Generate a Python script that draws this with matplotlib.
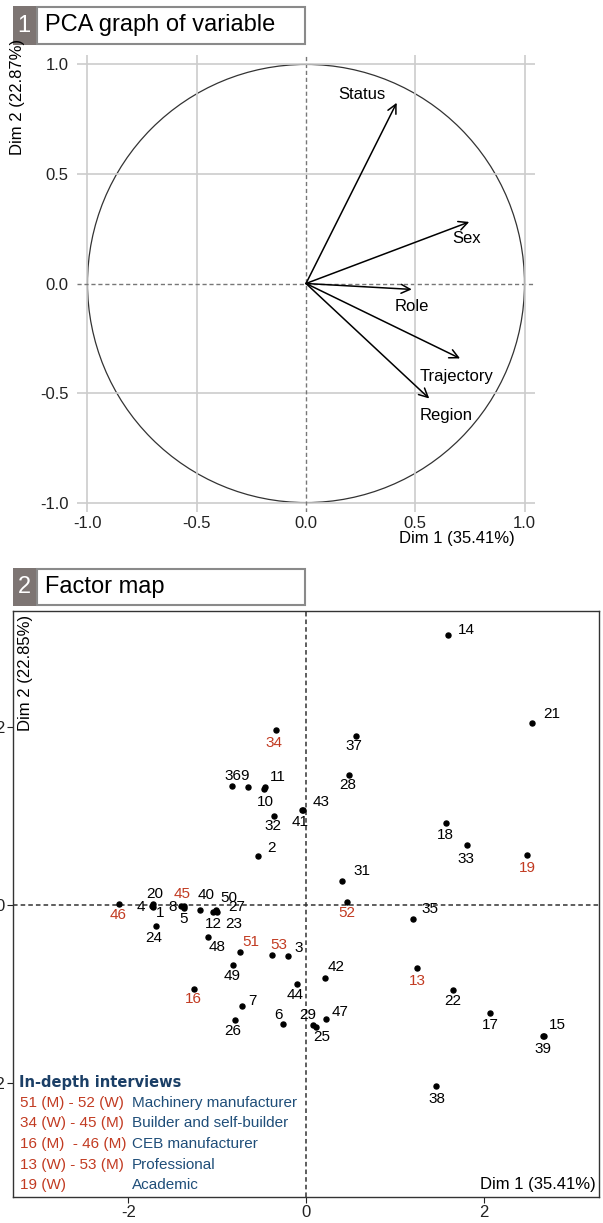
import matplotlib.pyplot as plt
from matplotlib.patches import Rectangle, Circle
import numpy as np

plt.rcParams['font.family'] = ['Liberation Sans', 'DejaVu Sans']
plt.rcParams['axes.unicode_minus'] = False

# ---- data: variables (correlation circle)
var_names = ['Status', 'Sex', 'Role', 'Trajectory', 'Region']
var_d1 = [0.415, 0.747, 0.484, 0.705, 0.564]
var_d2 = [0.825, 0.281, -0.027, -0.342, -0.525]

# ---- data: individuals (factor map)
ind_names = ['1', '2', '3', '4', '5', '6', '7', '8', '9', '10', '11', '12', '13',
             '14', '15', '16', '17', '18', '19', '20', '21', '22', '23', '24', '25',
             '26', '27', '28', '29', '31', '32', '33', '34', '35', '36', '37', '38',
             '39', '40', '41', '42', '43', '44', '45', '46', '47', '48', '49', '50',
             '51', '52', '53']
ind_d1 = [-1.725, -0.545, -0.20, -1.74, -1.375, -0.263, -0.725, -1.41, -0.65, -0.47,
          -0.462, -1.048, 1.251, 1.604, 2.678, -1.263, 2.074, 1.575, 2.488, -1.725,
          2.545, 1.657, -1.003, -1.691, 0.113, -0.80, -1.015, 0.485, 0.079, 0.406,
          -0.361, 1.812, -0.338, 1.203, -0.831, 0.560, 1.466, 2.669, -1.195, -0.048,
          0.218, -0.039, -0.098, -1.375, -2.105, 0.222, -1.101, -0.820, -1.018,
          -0.744, 0.466, -0.383]
ind_d2 = [-0.02, 0.552, -0.57, -0.01, -0.035, -1.334, -1.131, -0.01, 1.322, 1.304,
          1.319, -0.079, -0.707, 3.025, -1.471, -0.950, -1.210, 0.917, 0.564, 0.011,
          2.037, -0.955, -0.079, -0.237, -1.375, -1.289, -0.068, 1.454, -1.353, 0.267,
          1.003, 0.676, 1.962, -0.161, 1.330, 1.894, -2.029, -1.477, -0.06, 1.060,
          -0.826, 1.071, -0.887, -0.011, 0.015, -1.282, -0.361, -0.680, -0.056,
          -0.530, 0.037, -0.560]
interviews = ['13', '16', '19', '34', '45', '46', '51', '52', '53']

legend_ids = ['51 (M) - 52 (W)', '34 (W) - 45 (M)', '16 (M)  - 46 (M)',
              '13 (W) - 53 (M)', '19 (W)']
legend_roles = ['Machinery manufacturer', 'Builder and self-builder',
                'CEB manufacturer', 'Professional', 'Academic']

# ---- layout: label offsets (pixels) relative to their point
var_off = [(-35, 8), (-3, -17), (0, -17), (-3, -18), (17, -17)]
ind_off = {'1': (7, -6), '2': (14, 8), '3': (10, 8), '4': (-11, -1), '5': (0, -11),
           '6': (-4, 9), '7': (11, 5), '8': (-8, -1), '9': (-4, 11), '10': (1, -13),
           '11': (13, 10), '12': (0, -12), '13': (0, -13), '14': (18, 5),
           '15': (14, 11), '16': (0, -10), '17': (0, -12), '18': (0, -12),
           '19': (0, -13), '20': (2, 10), '21': (20, 9), '22': (0, -11),
           '23': (17, -12), '24': (-2, -12), '25': (6, -10), '26': (-2, -11),
           '27': (21, 4), '28': (-1, -10), '29': (-5, 10), '31': (20, 10),
           '32': (-1, -10), '33': (-1, -14), '34': (-2, -13), '35': (17, 10),
           '36': (1, 10), '37': (-2, -10), '38': (1, -13), '39': (0, -13),
           '40': (6, 15), '41': (-2, -12), '42': (11, 11), '43': (19, 8),
           '44': (-2, -11), '45': (-2, 12), '46': (-1, -11), '47': (14, 7),
           '48': (9, -10), '49': (-1, -11), '50': (13, 12), '51': (11, 10),
           '52': (-1, -11), '53': (7, 10)}

RED = '#c23b22'
BLUE = '#1f4e79'
W, H = 603, 1223

fig = plt.figure(figsize=(W / 100, H / 100), dpi=100)


def fx(px):
    return px / W


def fy(py):
    return 1 - py / H


def header(num, title, top, bottom):
    fig.patches.append(Rectangle((fx(12.5), fy(bottom)), fx(36) - fx(12.5),
                                 fy(top) - fy(bottom), transform=fig.transFigure,
                                 facecolor='#7d7573', edgecolor='none'))
    fig.patches.append(Rectangle((fx(37), fy(bottom - 1)), fx(305) - fx(37),
                                 fy(top + 1) - fy(bottom - 1), transform=fig.transFigure,
                                 facecolor='white', edgecolor='#8a8a8a', lw=1.5))
    yc = fy((top + bottom) / 2)
    fig.text(fx(24), yc, num, color='white', fontsize=17, ha='center', va='center')
    fig.text(fx(45), yc, title, color='black', fontsize=17, ha='left', va='center')


# ---------------- top panel: variables
ax1 = fig.add_axes([fx(77), fy(512), fx(535) - fx(77), fy(55) - fy(512)])
ax1.set_xlim(-1.048, 1.048)
ax1.set_ylim(-1.043, 1.043)
ticks = [-1.0, -0.5, 0.0, 0.5, 1.0]
for t in ticks:
    if t == 0:
        ax1.axvline(t, color='#777777', lw=1, ls=(0, (3, 2)))
        ax1.axhline(t, color='#777777', lw=1, ls=(0, (3, 2)))
    else:
        ax1.axvline(t, color='#cccccc', lw=1.2)
        ax1.axhline(t, color='#cccccc', lw=1.2)
ax1.set_xticks(ticks)
ax1.set_yticks(ticks)
ax1.set_xticklabels(['%.1f' % t for t in ticks])
ax1.set_yticklabels(['%.1f' % t for t in ticks])
ax1.tick_params(axis='y', length=0, labelsize=12, pad=6, colors='#222222')
ax1.tick_params(axis='x', length=0, labelsize=12, pad=3, colors='#222222')
for s in ax1.spines.values():
    s.set_visible(False)
ax1.add_patch(Circle((0, 0), 1, fill=False, color='#333333', lw=0.9))
for name, a, b, off in zip(var_names, var_d1, var_d2, var_off):
    ax1.annotate('', xy=(a, b), xytext=(0, 0),
                 arrowprops=dict(arrowstyle='->', color='black', lw=1.1,
                                 mutation_scale=16, shrinkA=0, shrinkB=0))
    ax1.annotate(name, xy=(a, b), xytext=off, textcoords='offset pixels',
                 ha='center', va='center', fontsize=12)
fig.text(fx(18), fy(97), 'Dim 2 (22.87%)', rotation=90, ha='center', va='center',
         fontsize=12)
fig.text(fx(515), fy(539), 'Dim 1 (35.41%)', ha='right', va='center', fontsize=12)
header('1', 'PCA graph of variable', 6, 45)

# ---------------- bottom panel: individuals
ax2 = fig.add_axes([fx(13), fy(1197), fx(599) - fx(13), fy(611) - fy(1197)])
ax2.set_xlim(-3.30, 3.30)
ax2.set_ylim(-3.28, 3.30)
ax2.axvline(0, color='#333333', lw=1.1, ls=(0, (3, 2)))
ax2.axhline(0, color='#333333', lw=1.1, ls=(0, (3, 2)))
ax2.scatter(ind_d1, ind_d2, s=13, color='black', zorder=3)
for name, a, b in zip(ind_names, ind_d1, ind_d2):
    c = RED if name in interviews else 'black'
    ax2.annotate(name, xy=(a, b), xytext=ind_off[name], textcoords='offset pixels',
                 ha='center', va='center', fontsize=11, color=c)
ax2.set_xticks([-2, 0, 2])
ax2.set_yticks([-2, 0, 2])
ax2.tick_params(direction='out', length=4, labelsize=12, pad=2, colors='#222222')
for s in ax2.spines.values():
    s.set_color('#333333')
    s.set_linewidth(1)
ax2.text(0.009, 0.993, 'Dim 2 (22.85%)', transform=ax2.transAxes, rotation=90,
         ha='left', va='top', fontsize=12)
ax2.text(0.994, 0.021, 'Dim 1 (35.41%)', transform=ax2.transAxes, ha='right',
         va='center', fontsize=12)

# legend of in-depth interviews
fig.text(fx(19), fy(1082), 'In-depth interviews', color='#1b3f66', fontsize=10.5,
         fontweight='bold', family='DejaVu Sans', ha='left', va='center')
for i, (ids, role) in enumerate(zip(legend_ids, legend_roles)):
    yy = fy(1102.5 + i * 20.7)
    fig.text(fx(20), yy, ids, color=RED, fontsize=11, ha='left', va='center')
    fig.text(fx(131.5), yy, role, color=BLUE, fontsize=11, ha='left', va='center')

header('2', 'Factor map', 568, 606)

fig.savefig('out.png', dpi=100)
